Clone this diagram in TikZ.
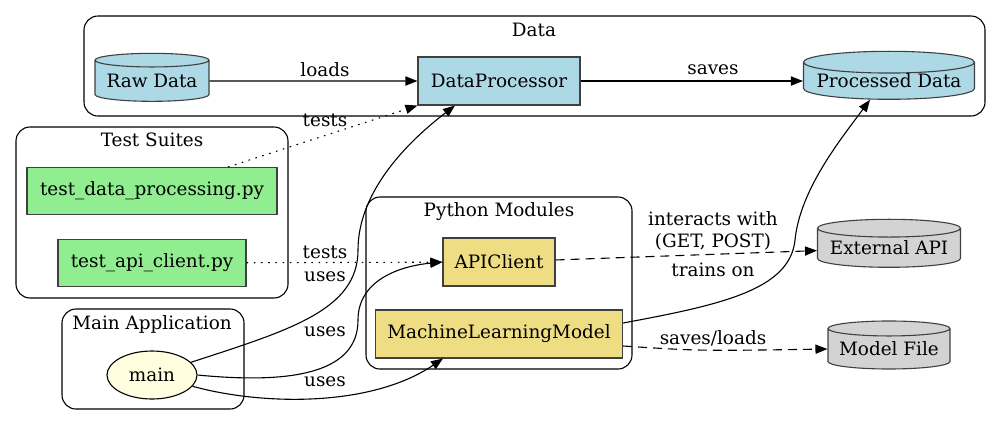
\documentclass[tikz,border=0pt]{standalone}
\usepackage{fontspec}
\setmainfont{DejaVu Serif}
\usepackage{tikz}
\usetikzlibrary{arrows.meta,shapes.geometric}
\definecolor{lblue}{HTML}{ADD8E6}
\definecolor{lgreen}{HTML}{90EE90}
\definecolor{lyellow}{HTML}{FFFFE0}
\definecolor{lgold}{HTML}{EEDD82}
\definecolor{lgray}{HTML}{D3D3D3}
\begin{document}
\begin{tikzpicture}[x=0.5pt,y=-0.5pt,line width=0.55pt,font=\fontsize{9.2}{11}\selectfont,
  >={Triangle[length=6pt,width=4.6pt]},
  box/.style={draw=black!75,rectangle,minimum height=24pt,inner sep=0pt},
  store/.style={draw=black!75,cylinder,shape border rotate=90,aspect=0.15,minimum height=24pt,inner sep=0pt},
  cluster/.style={draw,rounded corners=7pt},
  lbl/.style={inner sep=0pt,align=center},
  dotline/.style={dash pattern=on 0.8pt off 2.8pt},
  dashline/.style={dash pattern=on 4.5pt off 3pt}]
              \useasboundingbox(0,0)rectangle(1001,425);
              \draw[cluster](84,16)rectangle(985,116);
              \draw[cluster](16,127)rectangle(288,298);
              \draw[cluster](62,309)rectangle(244,409);
              \draw[cluster](366,197)rectangle(632,369);
              \node[lbl](tdata)at(534,30){Data};
              \node[lbl](ttests)at(152,140){Test Suites};
              \node[lbl](tmain)at(152,324){Main Application};
              \node[lbl](tmods)at(499,212){Python Modules};
              \node[store,fill=lblue,minimum width=57pt](raw)at(152,81){Raw Data};
              \node[box,fill=lblue,minimum width=81pt](proc)at(499,81){DataProcessor};
              \node[store,fill=lblue,minimum width=85.5pt](procd)at(889,81){Processed Data};
              \node[box,fill=lgreen,minimum width=125pt,minimum height=23.5pt](tdp)at(152,191){test\_data\_processing.py};
              \node[box,fill=lgreen,minimum width=94pt,minimum height=23.5pt](tapi)at(152,263){test\_api\_client.py};
              \node[ellipse,draw,fill=lyellow,minimum width=45pt,minimum height=24pt,inner sep=0pt](main)at(152,375){main};
              \node[box,fill=lgold,minimum width=56pt](api)at(499,262){APIClient};
              \node[box,fill=lgold,minimum width=123.5pt](ml)at(499,334){MachineLearningModel};
              \node[store,fill=lgray,minimum width=71.5pt](ext)at(889,248){External API};
              \node[store,fill=lgray,minimum width=61pt](mfile)at(889,349){Model File};
              \draw[->](raw)--(proc);
              \draw[->](proc)--(procd);
              \draw[->,dotline]([xshift=38pt]tdp.north)--(proc.south west);
              \draw[->,dotline](tapi)--(api);
              \draw[->](main).. controls(290,330)and(358,310)..(358,250).. controls(358,190)and(410,140)..([xshift=-22pt]proc.south);
              \draw[->](main.east).. controls(300,385)and(358,370)..(358,320).. controls(358,280)and(400,266)..(api.west);
              \draw[->](main).. controls(260,405)and(370,408)..([xshift=-28pt]ml.south);
              \draw[->,dashline](api)--(ext);
              \draw[->]([yshift=5.5pt]ml.east).. controls(720,305)and(790,290)..(795,240).. controls(800,190)and(840,140)..([xshift=-9.5pt]procd.south);
              \draw[->,dashline]([yshift=-6pt]ml.east).. controls(700,351)..(mfile.west);
              \node[lbl](l1)at(325,70){loads};
              \node[lbl](l2)at(713,70){saves};
              \node[lbl](l3)at(325,120){tests};
              \node[lbl](l4)at(325,252){tests};
              \node[lbl](l5)at(325,277){uses};
              \node[lbl](l6)at(325,332){uses};
              \node[lbl](l7)at(325,382){uses};
              \node[lbl](l8)at(713,231){interacts with\\(GET, POST)};
              \node[lbl](l9)at(713,270){trains on};
              \node[lbl](l10)at(713,338){saves/loads};
            \end{tikzpicture}
\end{document}
